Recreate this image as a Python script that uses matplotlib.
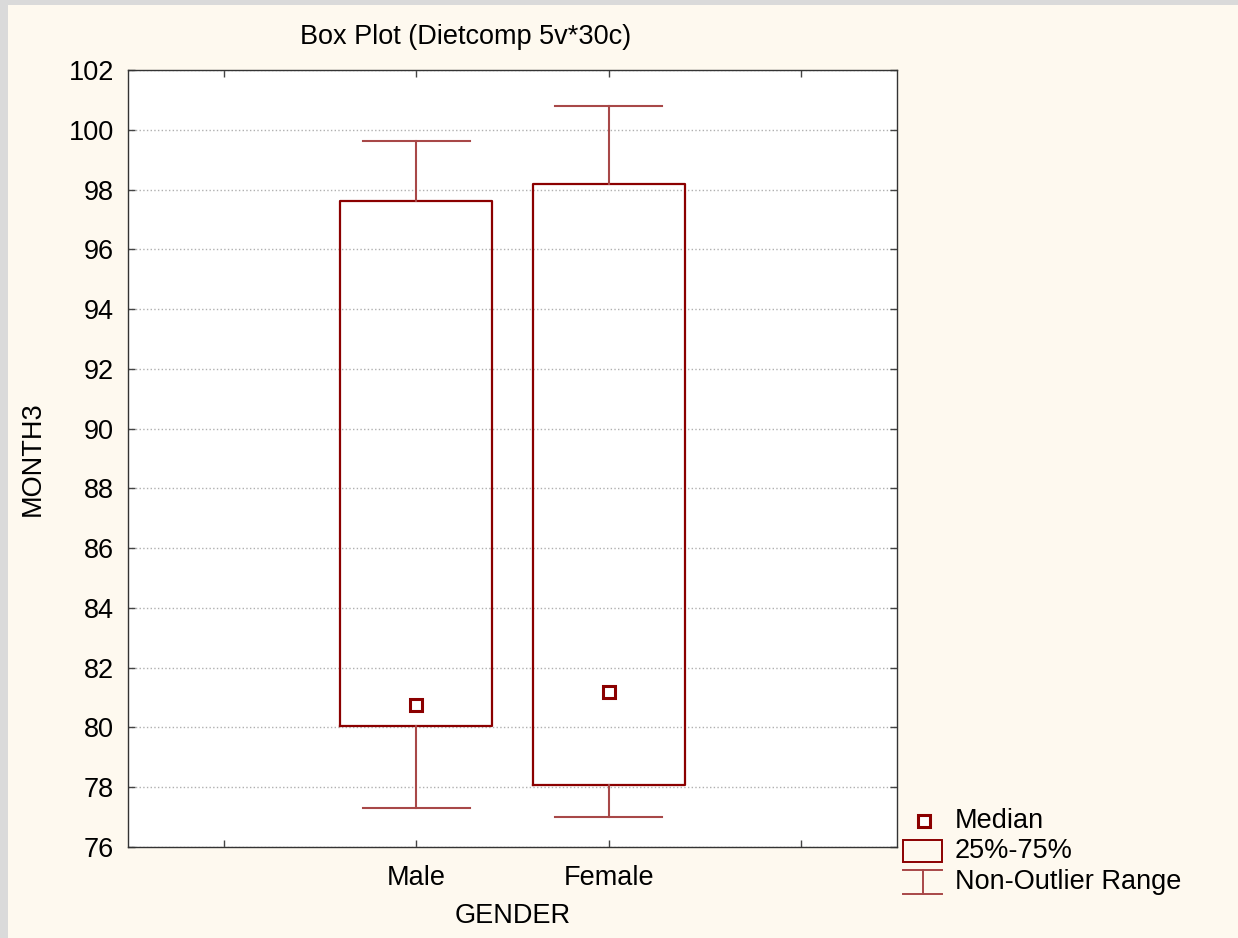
import matplotlib.pyplot as plt
from matplotlib.patches import Rectangle
from matplotlib.lines import Line2D

plt.rcParams['font.family'] = ['Liberation Sans', 'DejaVu Sans']

# values
groups = ['Male', 'Female']
q1 = [80.05, 78.08]
q3 = [97.62, 98.18]
medians = [80.75, 81.18]
whislo = [77.3, 77.0]
whishi = [99.62, 100.8]
yticks = list(range(76, 103, 2))

box_col = '#8B0000'
whisk_col = '#A84848'
fs = 19.5

fig = plt.figure(figsize=(12.38, 9.38), dpi=100)
fig.patch.set_facecolor('#DADADA')
# cream panel over the gray border
fig.add_artist(Rectangle((8 / 1238, 0), 1, 1 - 5 / 938, transform=fig.transFigure,
                         facecolor='#FEF9EF', edgecolor='none', zorder=0))

ax = fig.add_axes([128 / 1238, 1 - 847 / 938, 769 / 1238, 777 / 938])
ax.set_facecolor('white')

stats = []
for i, g in enumerate(groups):
    stats.append(dict(label=g, q1=q1[i], q3=q3[i], med=medians[i],
                      whislo=whislo[i], whishi=whishi[i], fliers=[]))

pos = [1, 2]
ax.bxp(stats, positions=pos, widths=0.79, capwidths=0.56, showfliers=False,
       boxprops=dict(color=box_col, linewidth=1.6),
       whiskerprops=dict(color=whisk_col, linewidth=1.5),
       capprops=dict(color=whisk_col, linewidth=1.5),
       medianprops=dict(linewidth=0), zorder=3)
ax.plot(pos, medians, linestyle='none', marker='s', markersize=9,
        markerfacecolor='white', markeredgecolor=box_col, markeredgewidth=2.2, zorder=4)

ax.set_xlim(-0.5, 3.5)
ax.set_ylim(76, 102)
ax.set_xticks([0, 1, 2, 3])
ax.set_xticklabels(['', 'Male', 'Female', ''])
ax.set_yticks(yticks)
ax.tick_params(direction='in', length=5, width=1, color='#444444',
               top=True, right=True, labelsize=fs)
ax.tick_params(axis='y', pad=10)
ax.tick_params(axis='x', pad=13)
ax.yaxis.grid(True, linestyle=':', color='#B0B0B0', linewidth=1)
ax.set_axisbelow(True)
for s in ax.spines.values():
    s.set_color('#333333')
    s.set_linewidth(1)

ax.set_xlabel('GENDER', fontsize=fs, va='center')
ax.xaxis.set_label_coords(0.5, (847 - 916) / 777)
ax.set_ylabel('MONTH3', fontsize=fs, va='center')
ax.yaxis.set_label_coords((33 - 128) / 769, 0.5)
fig.text(466 / 1238, 1 - 37 / 938, 'Box Plot (Dietcomp 5v*30c)', fontsize=fs,
         ha='center', va='center')

# legend drawn by hand in figure pixels
def fx(x):
    return x / 1238

def fy(y):
    return 1 - y / 938

fig.add_artist(Line2D([fx(924)], [fy(821)], marker='s', markersize=9, linestyle='none',
                      markerfacecolor='white', markeredgecolor=box_col, markeredgewidth=2.2,
                      transform=fig.transFigure))
fig.add_artist(Rectangle((fx(903), fy(862)), fx(39), 22 / 938, transform=fig.transFigure,
                         facecolor='none', edgecolor=box_col, linewidth=1.4))
fig.add_artist(Line2D([fx(903), fx(942)], [fy(870), fy(870)], color=whisk_col, lw=1.4,
                      transform=fig.transFigure))
fig.add_artist(Line2D([fx(903), fx(942)], [fy(894), fy(894)], color=whisk_col, lw=1.4,
                      transform=fig.transFigure))
fig.add_artist(Line2D([fx(922.5), fx(922.5)], [fy(870), fy(894)], color=whisk_col, lw=1.4,
                      transform=fig.transFigure))
for y, t in [(821, 'Median'), (851, '25%-75%'), (882, 'Non-Outlier Range')]:
    fig.text(fx(955), fy(y), t, fontsize=fs, ha='left', va='center')

fig.savefig('out.png', dpi=100, facecolor=fig.get_facecolor())
